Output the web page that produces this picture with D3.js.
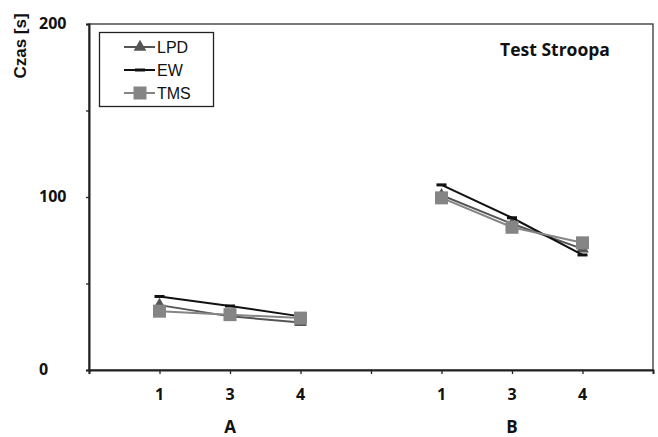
<!DOCTYPE html>
<html>
<head>
<meta charset="utf-8">
<script src="https://cdn.jsdelivr.net/npm/d3@7"></script>
<style>
  body { margin: 0; background: #fff; }
  text { font-family: "Open Sans", "Liberation Sans", sans-serif; font-weight: bold; fill: #111; }
  text.arial { font-family: "Liberation Sans", Arial, sans-serif; }
</style>
</head>
<body>
<svg id="chart" width="658" height="437"></svg>
<script>
// values
var groups = ["A", "B"];
var tickLabels = ["1", "3", "4"];
var seriesNames = ["LPD", "EW", "TMS"];
var lpd = [37.5, 31, 27.5, 101, 84.5, 70];
var ew = [42.5, 37, 31, 107, 88, 66.5];
var tms = [34, 32, 30, 99.5, 82.5, 73.5];
var yTicks = [0, 100, 200];

var svg = d3.select("#chart");
var plotL = 89, plotR = 653, plotT = 24, plotB = 370;

// 8 slots across the plot, A sits on 1..3, B on 5..7
var x = d3.scaleLinear().domain([0, 8]).range([plotL, plotR]);
var y = d3.scaleLinear().domain([0, 200]).range([plotB, plotT]);

var slots = [];
groups.forEach(function(g, gi) {
  tickLabels.forEach(function(t, ti) { slots.push(gi * 4 + ti + 1); });
});

// frame
svg.append("rect")
  .attr("x", plotL).attr("y", plotT)
  .attr("width", plotR - plotL).attr("height", plotB - plotT)
  .attr("fill", "none").attr("stroke", "#333").attr("stroke-width", 1.3);

// y axis
var yAxis = svg.append("g").attr("transform", "translate(" + plotL + ",0)")
  .call(d3.axisLeft(y).tickValues([0, 50, 100, 150, 200]).tickSize(3).tickFormat(""));
yAxis.select(".domain").attr("stroke", "#222").attr("stroke-width", 2);
yAxis.selectAll(".tick line").attr("stroke", "#222").attr("stroke-width", 1.3);

svg.selectAll("text.ylab").data(yTicks).enter().append("text")
  .attr("class", "ylab")
  .attr("x", 39).attr("y", function(d) { return y(d) + 5; })
  .attr("font-size", 16)
  .text(function(d) { return d; });

// x axis
var xAxis = svg.append("g").attr("transform", "translate(0," + plotB + ")")
  .call(d3.axisBottom(x).tickValues([0, 1, 2, 3, 4, 5, 6, 7]).tickSize(4).tickFormat(""));
xAxis.select(".domain").attr("stroke", "#222").attr("stroke-width", 2);
xAxis.selectAll(".tick line").attr("stroke", "#222").attr("stroke-width", 1.3);

svg.selectAll("text.xlab").data(slots).enter().append("text")
  .attr("class", "xlab")
  .attr("x", function(d) { return x(d); })
  .attr("y", 400)
  .attr("text-anchor", "middle").attr("font-size", 16)
  .text(function(d, i) { return tickLabels[i % tickLabels.length]; });

svg.selectAll("text.glab").data(groups).enter().append("text")
  .attr("class", "glab")
  .attr("x", function(d, i) { return x(i * 4 + 2); })
  .attr("y", 433)
  .attr("text-anchor", "middle").attr("font-size", 17)
  .text(function(d) { return d; });

// axis title
svg.append("text")
  .attr("class", "arial")
  .attr("transform", "translate(26,46) rotate(-90)")
  .attr("text-anchor", "middle").attr("font-size", 17)
  .text("Czas [s]");

svg.append("text")
  .attr("x", 555).attr("y", 56)
  .attr("text-anchor", "middle").attr("font-size", 17.5)
  .text("Test Stroopa");

// series
var series = [
  { name: seriesNames[0], values: lpd, color: "#555555", marker: "triangle" },
  { name: seriesNames[1], values: ew, color: "#111111", marker: "dash" },
  { name: seriesNames[2], values: tms, color: "#858585", marker: "square" }
];

var line = d3.line()
  .x(function(d) { return x(d.slot); })
  .y(function(d) { return y(d.v); });

function drawMarker(g, type, color) {
  if (type === "triangle") {
    g.append("path").attr("d", d3.symbol(d3.symbolTriangle, 70)()).attr("fill", color);
  } else if (type === "square") {
    g.append("rect").attr("x", -6.5).attr("y", -6.5).attr("width", 13).attr("height", 13).attr("fill", color);
  } else {
    g.append("rect").attr("x", -5).attr("y", -1.5).attr("width", 10).attr("height", 3).attr("fill", color);
  }
}

series.forEach(function(s) {
  var pts = s.values.map(function(v, i) { return { slot: slots[i], v: v }; });
  groups.forEach(function(g, gi) {
    svg.append("path")
      .datum(pts.slice(gi * 3, gi * 3 + 3))
      .attr("d", line)
      .attr("fill", "none").attr("stroke", s.color).attr("stroke-width", 2);
  });
  pts.forEach(function(p) {
    var m = svg.append("g").attr("transform", "translate(" + x(p.slot) + "," + y(p.v) + ")");
    drawMarker(m, s.marker, s.color);
  });
});

// legend
var legend = svg.append("g");
legend.append("rect")
  .attr("x", 99.5).attr("y", 32.5).attr("width", 114).attr("height", 74)
  .attr("fill", "#fff").attr("stroke", "#222").attr("stroke-width", 1.3);
series.forEach(function(s, i) {
  var ly = 47 + i * 23;
  legend.append("line")
    .attr("x1", 124).attr("x2", 155).attr("y1", ly).attr("y2", ly)
    .attr("stroke", s.color).attr("stroke-width", 2);
  var m = legend.append("g").attr("transform", "translate(140," + ly + ")");
  drawMarker(m, s.marker, s.color);
  legend.append("text")
    .attr("class", "arial")
    .attr("x", 157).attr("y", ly + 6)
    .attr("font-size", 16).style("font-weight", "normal")
    .text(s.name);
});
</script>
</body>
</html>
